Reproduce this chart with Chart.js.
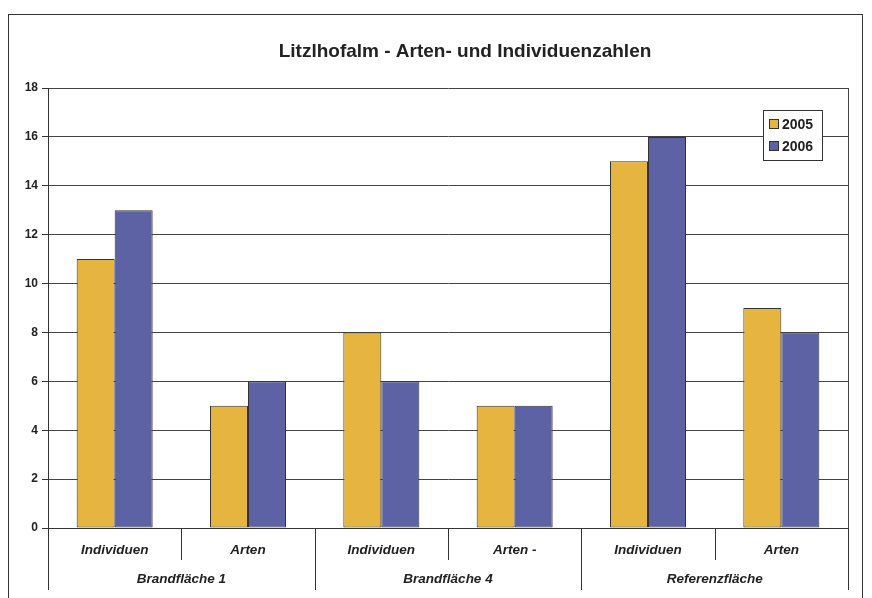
<!DOCTYPE html>
<html>
<head>
<meta charset="utf-8">
<script src="https://cdn.jsdelivr.net/npm/chart.js@4"></script>
<style>
  html, body { margin: 0; padding: 0; background: #fff; }
  #wrap { width: 872px; height: 598px; }
</style>
</head>
<body>
<div id="wrap"><canvas id="chart" width="872" height="598"></canvas></div>
<script>
// Daten
const titel = "Litzlhofalm - Arten- und Individuenzahlen";
const kategorien = ["Individuen", "Arten", "Individuen", "Arten -", "Individuen", "Arten"];
const flaechen = ["Brandfläche 1", "Brandfläche 4", "Referenzfläche"];
const jahre = ["2005", "2006"];
const werte2005 = [11, 5, 8, 5, 15, 9];
const werte2006 = [13, 6, 6, 5, 16, 8];
const yTicks = [0, 2, 4, 6, 8, 10, 12, 14, 16, 18];

const farben = ["#E5B540", "#5C62A4"];
const schrift = "'Liberation Sans', Arial, sans-serif";

// Rahmen, Titel, Trennlinien der Achse und Legende
const extras = {
  id: "extras",
  afterDraw(chart) {
    const ctx = chart.ctx;
    const area = chart.chartArea;
    const x = chart.scales.x;
    ctx.save();
    // äußerer Rahmen
    ctx.strokeStyle = "#333";
    ctx.lineWidth = 1;
    ctx.strokeRect(8.5, 14.5, 854, 600);
    // rechter Rand der Zeichenfläche
    ctx.strokeStyle = "#444";
    ctx.beginPath();
    ctx.moveTo(area.right + 0.5, area.top);
    ctx.lineTo(area.right + 0.5, area.bottom);
    ctx.stroke();
    // Titel
    ctx.fillStyle = "#222";
    ctx.font = "bold 19px " + schrift;
    ctx.textAlign = "center";
    ctx.textBaseline = "middle";
    ctx.fillText(titel, 465, 52);
    // Trennlinien zwischen Kategorien / Flächen
    ctx.strokeStyle = "#333";
    for (let i = 0; i <= kategorien.length; i++) {
      let px;
      if (i === 0) px = area.left;
      else if (i === kategorien.length) px = area.right;
      else px = (x.getPixelForValue(i - 1) + x.getPixelForValue(i)) / 2;
      const lang = i % 2 === 0;
      ctx.beginPath();
      ctx.moveTo(Math.round(px) + 0.5, area.bottom);
      ctx.lineTo(Math.round(px) + 0.5, area.bottom + (lang ? 62 : 32));
      ctx.stroke();
    }
    // Legende
    const lx = 763, ly = 110, lw = 59, lh = 50;
    ctx.fillStyle = "#fff";
    ctx.fillRect(lx, ly, lw, lh);
    ctx.strokeStyle = "#333";
    ctx.strokeRect(lx + 0.5, ly + 0.5, lw, lh);
    ctx.font = "bold 14px " + schrift;
    ctx.textAlign = "left";
    chart.data.datasets.forEach((ds, i) => {
      const cy = ly + 14 + i * 22;
      ctx.fillStyle = ds.backgroundColor;
      ctx.fillRect(lx + 6, cy - 5, 10, 10);
      ctx.strokeStyle = "#333";
      ctx.strokeRect(lx + 6.5, cy - 4.5, 9, 9);
      ctx.fillStyle = "#222";
      ctx.fillText(ds.label, lx + 19, cy + 1);
    });
    ctx.restore();
  }
};

new Chart(document.getElementById("chart"), {
  type: "bar",
  data: {
    labels: kategorien,
    datasets: [
      { label: jahre[0], data: werte2005, backgroundColor: farben[0], borderColor: "#333", borderWidth: 1 },
      { label: jahre[1], data: werte2006, backgroundColor: farben[1], borderColor: "#333", borderWidth: 1 }
    ]
  },
  options: {
    responsive: false,
    animation: false,
    layout: { padding: { top: 88, right: 24, left: 0, bottom: 0 } },
    datasets: { bar: { categoryPercentage: 0.57, barPercentage: 1.0, borderSkipped: false } },
    plugins: {
      legend: { display: false },
      title: { display: false },
      tooltip: { enabled: false }
    },
    scales: {
      x: {
        position: "bottom",
        grid: { display: false },
        border: { display: true, color: "#333", width: 1 },
        ticks: {
          color: "#222",
          font: { family: schrift, size: 13.5, style: "italic", weight: "bold" },
          padding: 6,
          maxRotation: 0,
          autoSkip: false
        },
        afterFit(s) { s.height = 32; }
      },
      x2: {
        type: "category",
        labels: flaechen,
        position: "bottom",
        offset: true,
        grid: { display: false },
        border: { display: false },
        ticks: {
          color: "#222",
          font: { family: schrift, size: 13.5, style: "italic", weight: "bold" },
          padding: 3,
          maxRotation: 0,
          autoSkip: false
        },
        afterFit(s) { s.height = 38; }
      },
      y: {
        min: 0,
        max: 18,
        afterBuildTicks(s) { s.ticks = yTicks.map(v => ({ value: v })); },
        grid: { color: "#444", lineWidth: 1, tickLength: 6, tickColor: "#333" },
        border: { display: true, color: "#333", width: 1 },
        ticks: {
          color: "#222",
          font: { family: schrift, size: 12, weight: "bold" },
          padding: 4
        },
        afterFit(s) { s.width = 48; }
      }
    }
  },
  plugins: [extras]
});
</script>
</body>
</html>
